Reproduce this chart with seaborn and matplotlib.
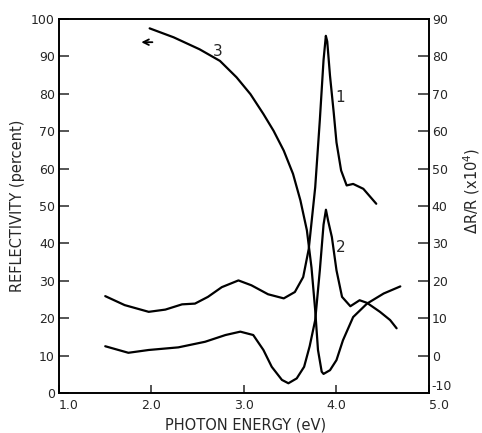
import numpy as np
import pandas as pd
import matplotlib
matplotlib.use("Agg")
import matplotlib.pyplot as plt
import seaborn as sns

# %% Data read off the reference
# curve 3: reflectivity (left axis, percent)
energy_3 = [1.98, 2.24, 2.52, 2.74, 2.92, 3.07, 3.21, 3.32, 3.43, 3.53, 3.61, 3.68,
            3.73, 3.77, 3.80, 3.84, 3.86, 3.93, 4.00, 4.07, 4.18, 4.33, 4.51, 4.69]
refl_3 = [97.5, 95.1, 91.9, 88.8, 84.4, 79.9, 74.6, 70.1, 64.8, 58.6, 51.5, 43.5,
          33.5, 22.1, 11.5, 5.7, 5.1, 6.1, 8.8, 14.1, 20.3, 23.9, 26.6, 28.5]

# curve 1: dR/R x 10^4 (right axis)
energy_1 = [1.50, 1.71, 1.97, 2.15, 2.33, 2.47, 2.61, 2.76, 2.94, 3.08, 3.26, 3.43,
            3.55, 3.64, 3.70, 3.77, 3.82, 3.86, 3.885, 3.90, 3.93, 3.97, 4.00, 4.05,
            4.11, 4.18, 4.29, 4.43]
dr_1 = [15.9, 13.5, 11.7, 12.3, 13.7, 13.9, 15.7, 18.3, 20.1, 18.8, 16.4, 15.3,
        17.0, 21.0, 28.5, 45.0, 63.0, 79.0, 85.5, 84.0, 74.8, 65.0, 57.0, 49.5,
        45.5, 45.9, 44.6, 40.6]

# curve 2: dR/R x 10^4 (right axis)
energy_2 = [1.50, 1.75, 1.97, 2.29, 2.58, 2.80, 2.96, 3.10, 3.21, 3.30, 3.41, 3.48,
            3.57, 3.65, 3.71, 3.77, 3.82, 3.86, 3.886, 3.91, 3.95, 4.00, 4.06, 4.15,
            4.25, 4.33, 4.47, 4.58, 4.65]
dr_2 = [2.5, 0.75, 1.5, 2.2, 3.7, 5.5, 6.4, 5.5, 1.5, -3.0, -6.5, -7.4,
        -6.1, -3.0, 2.5, 9.5, 22.8, 35.0, 39.0, 36.0, 31.7, 22.8, 15.7, 13.2,
        14.8, 14.1, 11.7, 9.5, 7.3]

x_ticks = [1.0, 2.0, 3.0, 4.0, 5.0]
left_ticks = list(range(0, 101, 10))
right_ticks = list(range(-10, 91, 10))

# %% Plot
sns.set_style("ticks")
plt.rcParams["font.family"] = ["DejaVu Sans"]

fig = plt.figure(figsize=(4.82, 4.33), dpi=100)
ax = fig.add_axes([0.1224, 0.0924, 0.7676, 0.8637])
ax2 = ax.twinx()

sns.lineplot(x=energy_3, y=refl_3, ax=ax, color="black", lw=1.6,
             estimator=None, sort=False)
sns.lineplot(x=energy_1, y=dr_1, ax=ax2, color="black", lw=1.6,
             estimator=None, sort=False)
sns.lineplot(x=energy_2, y=dr_2, ax=ax2, color="black", lw=1.6,
             estimator=None, sort=False)

ax.set_xlim(1.0, 5.0)
ax.set_ylim(0, 100)
ax2.set_ylim(-10, 90)

ax.set_xticks(x_ticks)
ax.set_xticklabels([f"{v:.1f}" for v in x_ticks], fontsize=9)
ax.set_yticks(left_ticks)
ax.set_yticklabels([str(v) for v in left_ticks], fontsize=9)
ax2.set_yticks(right_ticks)
ax2.set_yticklabels([str(v) for v in right_ticks], fontsize=9)

# edge labels sit just inside the corners, like the original
xl = ax.get_xticklabels()
xl[0].set_ha("left")
xl[-1].set_ha("left")
ax2.get_yticklabels()[0].set_va("bottom")

ax.tick_params(axis="y", direction="in", length=7, width=1.1, pad=3)
ax.tick_params(axis="x", direction="in", length=6, width=1.1, pad=4)
ax2.tick_params(axis="y", direction="in", length=8, width=1.1, pad=2)

for a in (ax, ax2):
    for s in a.spines.values():
        s.set_visible(True)
        s.set_linewidth(1.2)
        s.set_color("black")

ax.set_xlabel("PHOTON ENERGY (eV)", fontsize=10.5)
ax.xaxis.set_label_coords(0.505, -0.065)
ax.set_ylabel("REFLECTIVITY (percent)", fontsize=10.5)
ax.yaxis.set_label_coords(-0.093, 0.5)
ax2.set_ylabel(r"$\Delta$R/R (x10$^{4}$)", fontsize=10.5, rotation=90)
ax2.yaxis.set_label_coords(1.087, 0.54)

# curve labels and arrow
ax.text(2.72, 91.3, "3", fontsize=11, ha="center", va="center")
ax2.text(4.04, 69, "1", fontsize=11, ha="center", va="center")
ax2.text(4.05, 29, "2", fontsize=11, ha="center", va="center")
ax.annotate("", xy=(1.86, 93.8), xytext=(2.04, 93.8),
            arrowprops=dict(arrowstyle="->", color="black", lw=1.3))

fig.savefig("out.png", dpi=100)
